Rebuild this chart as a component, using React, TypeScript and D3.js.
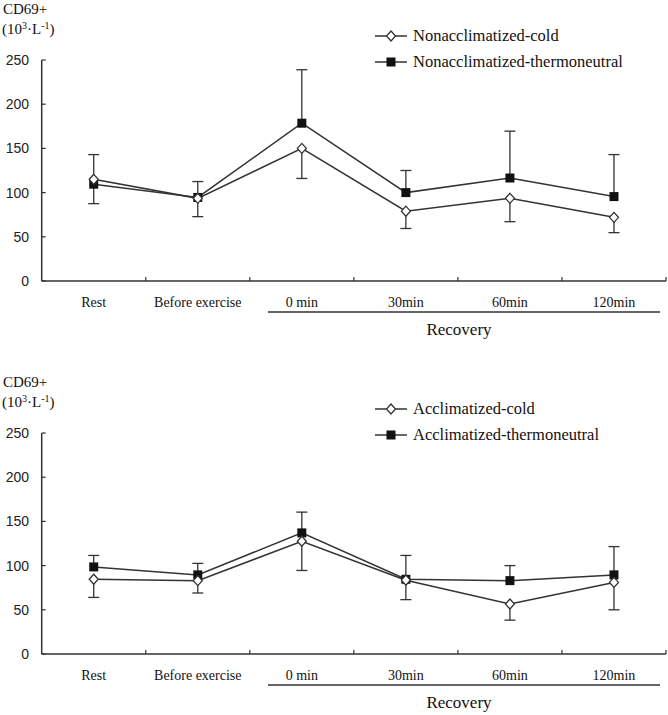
import React, { useEffect, useRef } from "react";
import * as d3 from "d3";

const categories = ["Rest", "Before exercise", "0 min", "30min", "60min", "120min"];
const yTicks = [0, 50, 100, 150, 200, 250];

// top panel: nonacclimatized
const nonColdMean = [115, 93.5, 150, 79, 93.5, 72];
const nonColdSd = [27.5, 20.7, 34, 19.6, 26.4, 17.3];
const nonThermoMean = [109.5, 94.5, 178.5, 100, 116.5, 95.5];
const nonThermoSd = [33.5, 18, 60.5, 25, 53, 47.5];

// bottom panel: acclimatized
const accColdMean = [84.5, 83, 127.5, 83.5, 56.5, 81];
const accColdSd = [20.5, 14, 33, 22, 18.2, 31];
const accThermoMean = [98.5, 89.5, 137, 84.5, 83, 89.5];
const accThermoSd = [13, 13, 23.5, 27, 17, 32];

const panels = [
  {
    top: 60,
    coldLabel: "Nonacclimatized-cold",
    thermoLabel: "Nonacclimatized-thermoneutral",
    coldMean: nonColdMean,
    coldSd: nonColdSd,
    thermoMean: nonThermoMean,
    thermoSd: nonThermoSd,
  },
  {
    top: 433,
    coldLabel: "Acclimatized-cold",
    thermoLabel: "Acclimatized-thermoneutral",
    coldMean: accColdMean,
    coldSd: accColdSd,
    thermoMean: accThermoMean,
    thermoSd: accThermoSd,
  },
];

const ink = "#333";
const serif = "'Liberation Serif', 'Times New Roman', serif";
const sans = "'Liberation Sans', Arial, sans-serif";

export default function App() {
  const svgRef = useRef<SVGSVGElement>(null);
  const width = 668;
  const height = 715;
  const left = 41.7;
  const right = 666;
  const plotH = 221;

  useEffect(() => {
    const svg = d3.select(svgRef.current);
    svg.selectAll("*").remove();

    panels.forEach((p) => {
      const g = svg.append("g");
      const bottom = p.top + plotH;

      const x = d3.scaleBand().domain(categories).range([left, right]);
      const y = d3.scaleLinear().domain([0, 250]).range([bottom, p.top]);
      const cx = (i: number) => (x(categories[i]) as number) + x.bandwidth() / 2;

      // header
      g.append("text")
        .attr("x", 3)
        .attr("y", p.top - 46)
        .attr("font-family", serif)
        .attr("font-size", 15)
        .attr("fill", "#111")
        .text("CD69+");
      const unit = g
        .append("text")
        .attr("x", 2)
        .attr("y", p.top - 26)
        .attr("font-family", serif)
        .attr("font-size", 15)
        .attr("fill", "#111");
      unit.append("tspan").text("(10");
      unit.append("tspan").attr("font-size", 10).attr("dy", -5).text("3");
      unit.append("tspan").attr("dy", 5).text("·L");
      unit.append("tspan").attr("font-size", 10).attr("dy", -5).text("-1");
      unit.append("tspan").attr("dy", 5).text(")");

      // y axis
      g.append("line")
        .attr("x1", left)
        .attr("x2", left)
        .attr("y1", y(250))
        .attr("y2", y(0))
        .attr("stroke", ink)
        .attr("stroke-width", 1.5);
      yTicks.forEach((t) => {
        g.append("line")
          .attr("x1", left)
          .attr("x2", left + 4)
          .attr("y1", y(t))
          .attr("y2", y(t))
          .attr("stroke", ink)
          .attr("stroke-width", 1.2);
        g.append("text")
          .attr("x", 29)
          .attr("y", y(t))
          .attr("dy", "0.35em")
          .attr("text-anchor", "end")
          .attr("font-family", sans)
          .attr("font-size", 14)
          .attr("fill", "#222")
          .text(t);
      });

      // x axis
      g.append("line")
        .attr("x1", left)
        .attr("x2", right)
        .attr("y1", bottom)
        .attr("y2", bottom)
        .attr("stroke", ink)
        .attr("stroke-width", 1.5);
      const bounds = categories.map((c) => x(c) as number).concat([right]);
      bounds.slice(1).forEach((b) => {
        g.append("line")
          .attr("x1", b)
          .attr("x2", b)
          .attr("y1", bottom)
          .attr("y2", bottom - 4)
          .attr("stroke", ink)
          .attr("stroke-width", 1.2);
      });
      categories.forEach((c, i) => {
        g.append("text")
          .attr("x", cx(i))
          .attr("y", bottom + 26)
          .attr("text-anchor", "middle")
          .attr("font-family", serif)
          .attr("font-size", 14)
          .attr("fill", "#111")
          .text(c);
      });

      // recovery bracket
      g.append("line")
        .attr("x1", 268)
        .attr("x2", 660)
        .attr("y1", bottom + 31)
        .attr("y2", bottom + 31)
        .attr("stroke", ink)
        .attr("stroke-width", 1.5);
      g.append("text")
        .attr("x", 459)
        .attr("y", bottom + 54)
        .attr("text-anchor", "middle")
        .attr("font-family", serif)
        .attr("font-size", 17)
        .attr("fill", "#111")
        .text("Recovery");

      // error bars: thermoneutral up, cold down
      const cap = 5.5;
      const drawErr = (mean: number[], sd: number[], dir: number) => {
        mean.forEach((m, i) => {
          const yEnd = y(m + dir * sd[i]);
          g.append("line")
            .attr("x1", cx(i))
            .attr("x2", cx(i))
            .attr("y1", y(m))
            .attr("y2", yEnd)
            .attr("stroke", ink)
            .attr("stroke-width", 1.3);
          g.append("line")
            .attr("x1", cx(i) - cap)
            .attr("x2", cx(i) + cap)
            .attr("y1", yEnd)
            .attr("y2", yEnd)
            .attr("stroke", ink)
            .attr("stroke-width", 1.3);
        });
      };
      drawErr(p.thermoMean, p.thermoSd, 1);
      drawErr(p.coldMean, p.coldSd, -1);

      const line = d3
        .line<number>()
        .x((_, i) => cx(i))
        .y((d) => y(d));

      g.append("path")
        .datum(p.coldMean)
        .attr("fill", "none")
        .attr("stroke", ink)
        .attr("stroke-width", 1.5)
        .attr("d", line);
      g.append("path")
        .datum(p.thermoMean)
        .attr("fill", "none")
        .attr("stroke", ink)
        .attr("stroke-width", 1.5)
        .attr("d", line);

      const diamond = (sx: number, sy: number) =>
        g
          .append("path")
          .attr("d", `M${sx},${sy - 5}L${sx + 4.5},${sy}L${sx},${sy + 5}L${sx - 4.5},${sy}Z`)
          .attr("fill", "#fff")
          .attr("stroke", ink)
          .attr("stroke-width", 1.3);
      const square = (sx: number, sy: number) =>
        g
          .append("rect")
          .attr("x", sx - 4.5)
          .attr("y", sy - 4.5)
          .attr("width", 9)
          .attr("height", 9)
          .attr("fill", "#111");

      p.thermoMean.forEach((m, i) => square(cx(i), y(m)));
      p.coldMean.forEach((m, i) => diamond(cx(i), y(m)));

      // legend
      const ly1 = p.top - 24;
      const ly2 = p.top + 2;
      [ly1, ly2].forEach((ly, k) => {
        g.append("line")
          .attr("x1", 375)
          .attr("x2", 407)
          .attr("y1", ly)
          .attr("y2", ly)
          .attr("stroke", ink)
          .attr("stroke-width", 1.5);
        if (k === 0) diamond(391, ly);
        else square(391, ly);
        g.append("text")
          .attr("x", 413)
          .attr("y", ly)
          .attr("dy", "0.32em")
          .attr("font-family", serif)
          .attr("font-size", 16.5)
          .attr("fill", "#111")
          .text(k === 0 ? p.coldLabel : p.thermoLabel);
      });
    });
  }, []);

  return (
    <svg
      ref={svgRef}
      width={width}
      height={height}
      style={{ position: "absolute", left: 0, top: 0, background: "#fff" }}
    ></svg>
  );
}
